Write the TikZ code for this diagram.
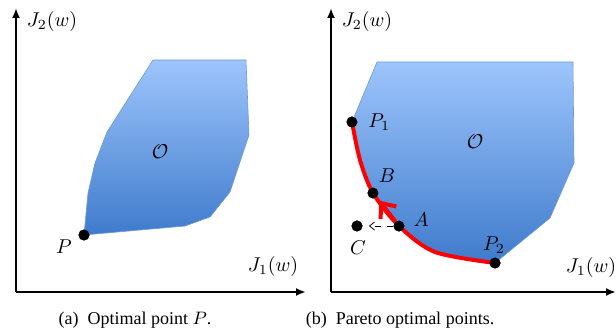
\documentclass[tikz,border=0pt]{standalone}
\usepackage{fontspec}
\setmainfont{Liberation Serif}
\usetikzlibrary{arrows.meta,positioning}
\definecolor{regiontop}{HTML}{9EC5FC}
\definecolor{regionbot}{HTML}{3F7BCC}
\definecolor{regionedge}{HTML}{6F9AD8}

\begin{document}
\begin{tikzpicture}[x=0.5pt,y=-0.5pt,font=\normalsize,
  axis/.style={line width=1pt,-{Latex[length=5pt,width=4pt]}},
  region/.style={draw=regionedge,line width=0.3pt,top color=regiontop,
                 bottom color=regionbot},
  dot/.style={circle,fill=black,inner sep=0pt,minimum size=5.5pt},
  pareto/.style={draw=red,line width=2pt,line join=round},
  movearrow/.style={draw=red,line width=2pt,
                    -{Straight Barb[length=6pt,width=10pt]},shorten >=2pt},
  dominate/.style={line width=0.4pt,dashed,
                -{Straight Barb[length=2.5pt,width=4pt]},shorten >=3pt},
  lbl/.style={inner sep=1pt},
  subcap/.style={font=\fontsize{9}{10}\selectfont}]
\useasboundingbox (0,0) rectangle (616,331);

\coordinate (o1) at (16,292); \coordinate (ya) at (16,8);
\coordinate (xa) at (306,292);
\coordinate (q1) at (153,60); \coordinate (q2) at (246,60);
\coordinate (q3) at (249,135); \coordinate (q4) at (230,192);
\coordinate (q5) at (210,217); \coordinate (q6) at (185,226);
\coordinate (q7) at (88,193); \coordinate (q8) at (95,163);
\coordinate (q9) at (107,132);
\node[dot] (p) at (84,235) {};

\path[region] (q1)--(q2)--(q3)--(q4)--(q5)--(q6)--(p.center)--(q7)--(q8)
  --(q9)--cycle;
\node[dot] at (p) {};
\draw[axis] (o1) -- (ya);
\draw[axis] (o1) -- (xa);
\node[lbl] (j2a) at (52,22) {$J_2(w)$};
\node[lbl] (j1a) at (273,267) {$J_1(w)$};
\node[lbl] (oa) at (160,152) {$\mathcal{O}$};
\node[lbl] (plbl) at (64,247) {$P$};
\node[subcap] (capa) at (135,320) {(a)~~Optimal point $P$.};

\coordinate (o2) at (331,292); \coordinate (yb) at (331,8);
\coordinate (xb) at (616,292);
\coordinate (r1) at (377,62); \coordinate (r2) at (573,62);
\coordinate (r3) at (574,163); \coordinate (r4) at (550,218);
\coordinate (m1) at (360,160); \coordinate (m2) at (435,252);
\node[dot] (p1) at (352,122) {};
\node[dot] (b) at (373,193) {};
\node[dot] (a) at (399,226) {};
\node[dot] (p2) at (495,263) {};
\node[dot] (c) at (357,226) {};

\path[region] (r1)--(r2)--(r3)--(r4)--(p2.center)
  -- plot[smooth,tension=0.5] coordinates {(m2) (a) (b) (m1) (p1)} --cycle;
\draw[pareto] plot[smooth,tension=0.5] coordinates {(p1) (m1) (b) (a) (m2)
  (p2)};
\draw[movearrow] (a) -- (b);
\draw[dominate] (a) -- (c);
\foreach \n in {p1,b,a,p2,c} \node[dot] at (\n) {};
\draw[axis] (o2) -- (yb);
\draw[axis] (o2) -- (xb);
\node[lbl] (j2b) at (367,22) {$J_2(w)$};
\node[lbl] (j1b) at (591,268) {$J_1(w)$};
\node[lbl] (ob) at (475,142) {$\mathcal{O}$};
\node[lbl,right=4pt of p1] (p1lbl) {$P_1$};
\node[lbl] (blbl) at (387,176) {$B$};
\node[lbl] (albl) at (421,220) {$A$};
\node[lbl] (p2lbl) at (494,245) {$P_2$};
\node[lbl] (clbl) at (358,248) {$C$};
\node[subcap] (capb) at (400,320) {(b)~~Pareto optimal points.};
\end{tikzpicture}
\end{document}
